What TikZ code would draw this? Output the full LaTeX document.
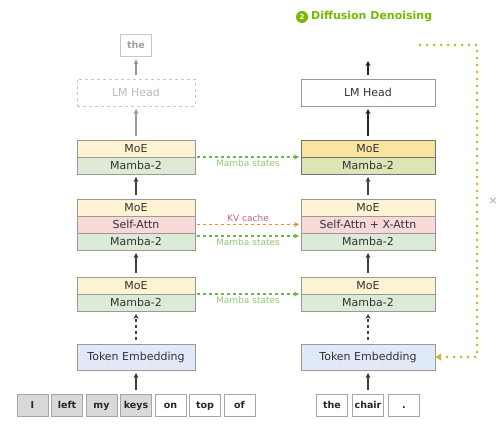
\documentclass[tikz,border=0pt]{standalone}
\usepackage{fontspec}
\setmainfont{DejaVu Sans}
\usetikzlibrary{arrows.meta}
\definecolor{MoeFill}{HTML}{FDF2D2}
\definecolor{MoeHot}{HTML}{FBE4A0}
\definecolor{MambaFill}{HTML}{DCEBD5}
\definecolor{MambaHot}{HTML}{DBE5B6}
\definecolor{AttnFill}{HTML}{F8D8D8}
\definecolor{EmbFill}{HTML}{DFE9F8}
\definecolor{TokGray}{HTML}{D9D9D9}
\definecolor{DiffGreen}{HTML}{76B900}
\definecolor{StateGreen}{HTML}{6DB34F}
\definecolor{KVOrange}{HTML}{E8902E}
\definecolor{KVText}{HTML}{C4607C}
\definecolor{LoopOlive}{HTML}{C9B62A}

\begin{document}
\begin{tikzpicture}[x=1pt,y=-1pt,
    layer/.style={draw=gray!80,line width=0.9pt,inner sep=0pt,outer sep=0pt,minimum height=17pt,text=black!80,font=\fontsize{11}{12}\selectfont},
    lcol/.style={minimum width=118pt},
    rcol/.style={minimum width=134pt},
    token/.style={draw=gray!70,line width=0.9pt,inner sep=0pt,minimum width=31pt,minimum height=22pt,text height=1.6ex,text depth=0.4ex,text=black!85,font=\bfseries\fontsize{9.5}{10}\selectfont},
    up/.style={-{Stealth[length=5pt,width=5pt]},line width=1.2pt,shorten <=4pt,shorten >=3pt},
    state/.style={-{Stealth[length=5pt,width=5pt]},line width=1.1pt,dashed,StateGreen,shorten <=2pt,shorten >=2pt},
    statelabel/.style={font=\fontsize{9}{10}\selectfont,text=StateGreen!75,inner sep=1pt}]
  \useasboundingbox (0,0) rectangle (500,435);

  % title
  \node[circle,fill=DiffGreen,text=white,inner sep=0pt,minimum size=12pt,font=\bfseries\fontsize{7}{7}\selectfont] (stepnum) at (302,17) {2};
  \node[anchor=west,text=DiffGreen,inner sep=0pt,font=\bfseries\fontsize{11}{13}\selectfont] (title) at (311,17) {Diffusion Denoising};

  % left column (autoregressive context)
  \node[token,draw=gray!45,text=gray!75] (lthe) at (136,45) {the};
  \node[layer,lcol,draw=gray!45,dashed,text=gray!55,minimum height=27pt] (llm) at (136,92.5) {LM Head};
  \node[layer,lcol,fill=MoeFill] (lmoe1) at (136,148.5) {MoE};
  \node[layer,lcol,fill=MambaFill] (lmamba1) at (136,165.5) {Mamba-2};
  \node[layer,lcol,fill=MoeFill] (lmoe2) at (136,207.5) {MoE};
  \node[layer,lcol,fill=AttnFill] (lattn) at (136,224.5) {Self-Attn};
  \node[layer,lcol,fill=MambaFill] (lmamba2) at (136,241.5) {Mamba-2};
  \node[layer,lcol,fill=MoeFill] (lmoe3) at (136,285.5) {MoE};
  \node[layer,lcol,fill=MambaFill] (lmamba3) at (136,302.5) {Mamba-2};
  \node[layer,lcol,fill=EmbFill,minimum height=26pt] (lemb) at (136,357) {Token Embedding};
  \foreach[count=\i] \w/\f in {I/TokGray,left/TokGray,my/TokGray,keys/TokGray,on/white,top/white,of/white} {
      \node[token,fill=\f] (ltok\i) at ({32.5+34.5*(\i-1)},405) {\w};
  }

  % right column (denoising)
  \node[layer,rcol,minimum height=27pt] (rlm) at (368,92.5) {LM Head};
  \node[layer,rcol,fill=MoeHot,draw=black!55] (rmoe1) at (368,148.5) {MoE};
  \node[layer,rcol,fill=MambaHot,draw=black!55] (rmamba1) at (368,165.5) {Mamba-2};
  \node[layer,rcol,fill=MoeFill] (rmoe2) at (368,207.5) {MoE};
  \node[layer,rcol,fill=AttnFill] (rattn) at (368,224.5) {Self-Attn + X-Attn};
  \node[layer,rcol,fill=MambaFill] (rmamba2) at (368,241.5) {Mamba-2};
  \node[layer,rcol,fill=MoeFill] (rmoe3) at (368,285.5) {MoE};
  \node[layer,rcol,fill=MambaFill] (rmamba3) at (368,302.5) {Mamba-2};
  \node[layer,rcol,fill=EmbFill,minimum height=26pt] (remb) at (368,357) {Token Embedding};
  \foreach[count=\i] \w in {the,chair,.} {
      \node[token] (rtok\i) at ({332+36*(\i-1)},405) {\w};
  }
  \coordinate (rout) at (368,58);

  % vertical flow
  \draw[up,gray!80] (llm.north) -- (lthe.south);
  \draw[up,gray!80] (lmoe1.north) -- (llm.south);
  \draw[up,black!75] (lmoe2.north) -- (lmamba1.south);
  \draw[up,black!75] (lmoe3.north) -- (lmamba2.south);
  \draw[up,black!75,dashed] (lemb.north) -- (lmamba3.south);
  \draw[up,black!75] (ltok4.north) -- (lemb.south);

  \draw[up,black!85] (rlm.north) -- (rout);
  \draw[up,black!85] (rmoe1.north) -- (rlm.south);
  \draw[up,black!75] (rmoe2.north) -- (rmamba1.south);
  \draw[up,black!75] (rmoe3.north) -- (rmamba2.south);
  \draw[up,black!75,dashed] (remb.north) -- (rmamba3.south);
  \draw[up,black!75] (rtok2.north) -- (remb.south);

  % cached states
  \draw[state] (lmamba1.north east) -- node[statelabel,below=1pt] (st1) {Mamba states} (rmamba1.north west);
  \draw[state,KVOrange,line width=1.6pt] (lattn.east) -- node[font=\fontsize{9}{10}\selectfont,text=KVText,above=1.5pt,inner sep=1pt] (kv) {KV cache} (rattn.west);
  \draw[state] ([yshift=-3pt]lmamba2.north east) -- node[statelabel,below=1pt] (st2) {Mamba states} ([yshift=-3pt]rmamba2.north west);
  \draw[state] (lmamba3.north east) -- node[statelabel,below=1pt] (st3) {Mamba states} (rmamba3.north west);

  % denoising loop
  \coordinate (loopstart) at (420,45);
  \coordinate (loopcorner) at (477,45);
  \draw[LoopOlive,line width=3pt,line cap=round,dash pattern=on 0pt off 7pt,-{Latex[length=6pt,width=8pt]}] (loopstart) -- (loopcorner) |- (remb.east);
  \node[text=gray!70,font=\fontsize{11}{13}\selectfont] (times) at (493,201) {×};
\end{tikzpicture}
\end{document}
